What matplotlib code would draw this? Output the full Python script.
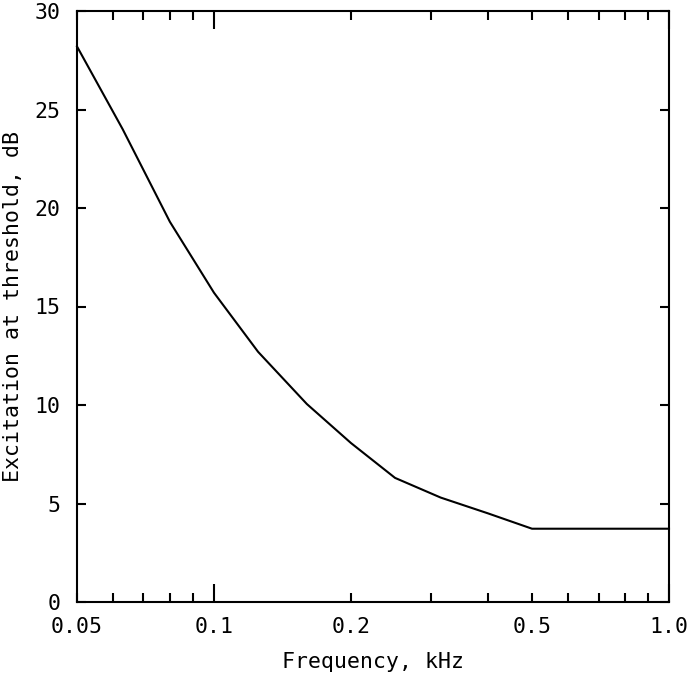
import matplotlib
matplotlib.use("Agg")
import matplotlib.pyplot as plt
from matplotlib.ticker import FixedLocator, NullFormatter

freq_khz = [0.05, 0.063, 0.08, 0.1, 0.125, 0.16, 0.2, 0.25, 0.315, 0.4, 0.5, 0.63, 0.8, 1.0]
excitation_db = [28.2, 24.0, 19.3, 15.7, 12.7, 10.05, 8.07, 6.3, 5.3, 4.5, 3.72, 3.72, 3.72, 3.72]

x_tick_vals = [0.05, 0.1, 0.2, 0.5, 1.0]
x_tick_labels = ["0.05", "0.1", "0.2", "0.5", "1.0"]
x_long_ticks = [0.1, 1.0]
x_minor_vals = [0.06, 0.07, 0.08, 0.09, 0.3, 0.4, 0.6, 0.7, 0.8, 0.9]
y_tick_vals = [0, 5, 10, 15, 20, 25, 30]

FONT = "DejaVu Sans Mono"
FS = 15.5

fig = plt.figure(figsize=(6.87, 6.79), dpi=100)
ax_l, ax_r, ax_t, ax_b = 77, 669, 11, 602
ax = fig.add_axes([ax_l/687, 1 - ax_b/679, (ax_r-ax_l)/687, (ax_b-ax_t)/679])

ax.plot(freq_khz, excitation_db, color="black", lw=1.5, solid_joinstyle="miter", clip_on=False)

ax.set_xscale("log")
ax.set_xlim(0.05, 1.0)
ax.set_ylim(0, 30)

ax.xaxis.set_major_locator(FixedLocator(x_tick_vals))
ax.set_xticklabels(x_tick_labels)
ax.xaxis.set_minor_locator(FixedLocator(x_minor_vals))
ax.xaxis.set_minor_formatter(NullFormatter())
ax.set_yticks(y_tick_vals)

for s in ax.spines.values():
    s.set_linewidth(1.5)

ax.tick_params(axis="both", which="both", direction="in", top=True, right=True,
               width=1.5, labelsize=FS, color="black")
ax.tick_params(axis="x", which="major", length=6.7, pad=11)
ax.tick_params(axis="x", which="minor", length=6.7)
ax.tick_params(axis="y", which="major", length=6.7, pad=12)

for t, v in zip(ax.xaxis.get_major_ticks(), x_tick_vals):
    if v in x_long_ticks:
        t.tick1line.set_markersize(13)
        t.tick2line.set_markersize(13)

for lab in ax.get_xticklabels() + ax.get_yticklabels():
    lab.set_fontfamily(FONT)

ax.set_xlabel("Frequency, kHz", fontsize=FS, fontfamily=FONT, va="center")
ax.set_ylabel("Excitation at threshold, dB", fontsize=FS, fontfamily=FONT, va="center")
ax.xaxis.set_label_coords(0.5, -(662 - ax_b) / (ax_b - ax_t))
ax.yaxis.set_label_coords((13 - ax_l) / (ax_r - ax_l), 0.5)

fig.savefig("out.png", dpi=100)
